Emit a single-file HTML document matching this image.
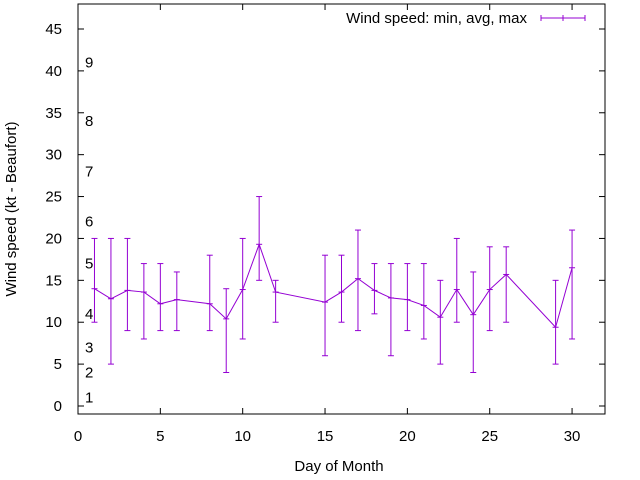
<!DOCTYPE html>
<html><head><meta charset="utf-8"><style>
body{margin:0;background:#fff}
svg{display:block;font-family:"Liberation Sans",sans-serif;font-size:15px}
</style></head><body>
<svg id="chart" width="640" height="480">
<g id="grid"></g>
<rect x="78" y="4" width="527" height="410" fill="none" stroke="#000"/>
<g id="axes"></g>
<g id="series"></g>
<text x="16" y="209" transform="rotate(-90 16 209)" text-anchor="middle">Wind speed (kt - Beaufort)</text>
<text x="339" y="471" text-anchor="middle">Day of Month</text>
<g>
<text x="527" y="23" text-anchor="end">Wind speed: min, avg, max</text>
<line x1="541" y1="18" x2="585" y2="18" stroke="#9400d3"/>
<line x1="541" y1="15" x2="541" y2="21" stroke="#9400d3"/>
<line x1="585" y1="15" x2="585" y2="21" stroke="#9400d3"/>
<line x1="563" y1="15" x2="563" y2="21" stroke="#9400d3"/>
</g>
</svg>
<script>
const days=[1,2,3,4,5,6,8,9,10,11,12,15,16,17,18,19,20,21,22,23,24,25,26,29,30];
const avgs=[14,12.8,13.8,13.6,12.2,12.7,12.2,10.4,13.9,19.3,13.6,12.4,13.6,15.2,13.8,12.9,12.7,12.0,10.6,13.9,10.9,13.9,15.7,9.4,16.5];
const mins=[10,5,9,8,9,9,9,4,8,15,10,6,10,9,11,6,9,8,5,10,4,9,10,5,8];
const maxs=[20,20,20,17,17,16,18,14,20,25,15,18,18,21,17,17,17,17,15,20,16,19,19,15,21];
const xTicks=[0,5,10,15,20,25,30];
const yTicks=[0,5,10,15,20,25,30,35,40,45];
const beaufortKt=[1,4,7,11,17,22,28,34,41];
const beaufortLabels=["1","2","3","4","5","6","7","8","9"];
const NS="http://www.w3.org/2000/svg";
const X=v=>78+v*(527/32);
const Y=v=>406-v*8.378;
function mk(t,a,p){const e=document.createElementNS(NS,t);for(const k in a)e.setAttribute(k,a[k]);p.appendChild(e);return e;}
const axes=document.getElementById('axes'),ser=document.getElementById('series');
xTicks.forEach(v=>{
 const g=mk('g',{},axes);
 
 
 mk('line',{x1:X(v),y1:414,x2:X(v),y2:408,stroke:'#000'},g);
 mk('line',{x1:X(v),y1:4,x2:X(v),y2:10,stroke:'#000'},g);
 const t=mk('text',{x:X(v),y:441,'text-anchor':'middle'},g);t.textContent=v;
});
yTicks.forEach(v=>{
 const g=mk('g',{},axes);
 
 
 mk('line',{x1:78,y1:Y(v),x2:84,y2:Y(v),stroke:'#000'},g);
 mk('line',{x1:605,y1:Y(v),x2:599,y2:Y(v),stroke:'#000'},g);
 const t=mk('text',{x:62,y:Y(v)+5,'text-anchor':'end'},g);t.textContent=v;
});
beaufortKt.forEach((v,i)=>{
 const t=mk('text',{x:85,y:Y(v)+5},axes);
 
 
 t.textContent=beaufortLabels[i];
});
const pl=mk('polyline',{points:days.map((d,i)=>X(d)+','+Y(avgs[i])).join(' '),fill:'none',stroke:'#9400d3'},ser);


days.forEach((d,i)=>{
 const g=mk('g',{stroke:'#9400d3'},ser);
 
 
 const x=X(d);
 mk('line',{x1:x,y1:Y(mins[i]),x2:x,y2:Y(maxs[i])},g);
 mk('line',{x1:x-3,y1:Y(mins[i]),x2:x+3,y2:Y(mins[i])},g);
 mk('line',{x1:x-3,y1:Y(maxs[i]),x2:x+3,y2:Y(maxs[i])},g);
 mk('line',{x1:x-3,y1:Y(avgs[i]),x2:x+3,y2:Y(avgs[i])},g);
});
</script>
</body></html>
